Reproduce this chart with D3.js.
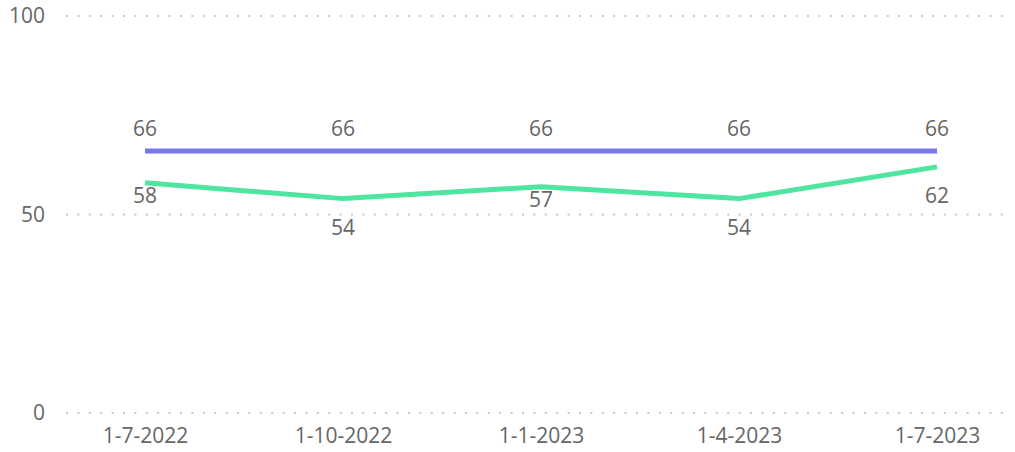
<!DOCTYPE html>
<html>
<head>
<meta charset="utf-8">
<script src="https://cdn.jsdelivr.net/npm/d3@7"></script>
<style>
  html, body { margin: 0; padding: 0; background: #fff; }
  svg { display: block; }
  text { font-family: "Open Sans", "Segoe UI", sans-serif; fill: #666; }
</style>
</head>
<body>
<svg id="chart" width="1015" height="452"></svg>
<script>
// Quarter labels on the x axis
const categories = ["1-7-2022", "1-10-2022", "1-1-2023", "1-4-2023", "1-7-2023"];
// Target series (flat)
const targetValues = [66, 66, 66, 66, 66];
// Actual series
const actualValues = [58, 54, 57, 54, 62];
// Y axis ticks
const yTicks = [0, 50, 100];

const svg = d3.select("#chart");
const fontSize = 21;

const x = d3.scalePoint().domain(categories).range([145, 937]);
const y = d3.scaleLinear().domain([0, 100]).range([413, 16]);

// Dotted horizontal gridlines
svg.append("g")
  .selectAll("line")
  .data(yTicks)
  .join("line")
  .attr("x1", 66).attr("x2", 1012)
  .attr("y1", d => y(d)).attr("y2", d => y(d))
  .attr("stroke", "#c8c8c8")
  .attr("stroke-width", 2)
  .attr("stroke-dasharray", "2,9.4");

// Y axis labels
const yAxis = d3.axisLeft(y).tickValues(yTicks).tickSize(0).tickPadding(0);
const gy = svg.append("g").attr("transform", "translate(45,0)").call(yAxis);
gy.select(".domain").remove();
gy.selectAll("text")
  .attr("font-size", fontSize)
  .attr("font-family", "'Open Sans', sans-serif")
  .attr("fill", "#666");

// X axis labels
const xAxis = d3.axisBottom(x).tickSize(0).tickPadding(0);
const gx = svg.append("g").attr("transform", "translate(0,428)").call(xAxis);
gx.select(".domain").remove();
gx.selectAll("text")
  .attr("font-size", fontSize)
  .attr("font-family", "'Open Sans', sans-serif")
  .attr("fill", "#666");

const line = d3.line()
  .x((d, i) => x(categories[i]))
  .y(d => y(d));

svg.append("path")
  .datum(targetValues)
  .attr("d", line)
  .attr("fill", "none")
  .attr("stroke", "#7878ea")
  .attr("stroke-width", 5);

svg.append("path")
  .datum(actualValues)
  .attr("d", line)
  .attr("fill", "none")
  .attr("stroke", "#4de5a0")
  .attr("stroke-width", 5)
  .attr("stroke-linejoin", "round");

// Target labels sit above the line
svg.append("g")
  .selectAll("text")
  .data(targetValues)
  .join("text")
  .attr("x", (d, i) => x(categories[i]))
  .attr("y", d => y(d) - 15)
  .attr("text-anchor", "middle")
  .attr("font-size", fontSize)
  .text(d => d);

// Actual labels sit below the line; pushed further down where the
// line runs close underneath the label
const belowGap = (d, i) => {
  const prev = actualValues[i - 1], next = actualValues[i + 1];
  const isDip = (prev === undefined || d <= prev) && (next === undefined || d <= next);
  const isLastRise = next === undefined && prev !== undefined && d > prev;
  return (isDip && i > 0) || isLastRise ? 36 : 20;
};

svg.append("g")
  .selectAll("text")
  .data(actualValues)
  .join("text")
  .attr("x", (d, i) => x(categories[i]))
  .attr("y", (d, i) => y(d) + belowGap(d, i))
  .attr("text-anchor", "middle")
  .attr("font-size", fontSize)
  .text(d => d);
</script>
</body>
</html>
